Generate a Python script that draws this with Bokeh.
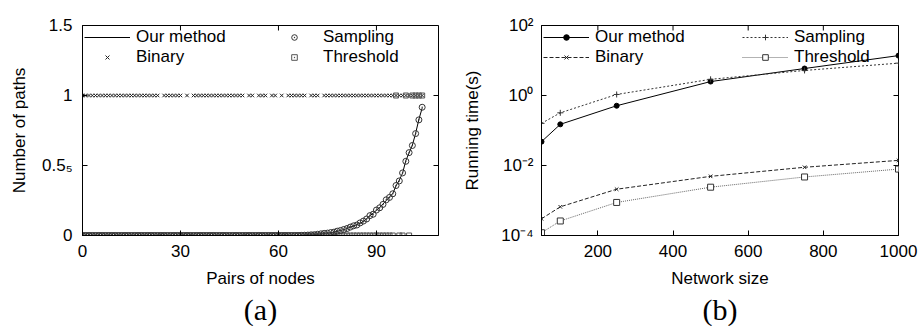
import math
from bokeh.plotting import figure
from bokeh.layouts import row
from bokeh.models import (FixedTicker, CustomJSTickFormatter, Legend, LegendItem, Title, Range1d)
from bokeh.embed import file_html
from bokeh.resources import INLINE

# ---------------- data: panel (a) ----------------
pairs = list(range(0, 105))
our_method = [
    0, 0, 0, 0, 0, 0, 0, 0, 0, 0,
    0, 0, 0, 0, 0, 0, 0, 0, 0, 0,
    0, 0, 0, 0, 0, 0, 0, 0, 0, 0,
    0, 0, 0, 0, 0, 0, 0, 0, 0, 0,
    0, 0, 0, 0, 0, 0, 0, 0, 0, 0,
    0, 0, 0, 0, 0, 0, 0, 0, 0, 0,
    0, 0, 0, 0, 0, 0, 0, 0.001, 0.002, 0.003,
    0.004, 0.006, 0.009, 0.012, 0.014, 0.017, 0.020, 0.024, 0.030, 0.036,
    0.042, 0.050, 0.060, 0.068, 0.078, 0.088, 0.100, 0.120, 0.140, 0.160,
    0.180, 0.200, 0.225, 0.250, 0.275, 0.300, 0.355, 0.395, 0.445, 0.535,
    0.590, 0.645, 0.730, 0.830, 0.910,
]
sampling = [
    0, 0, 0, 0, 0, 0, 0, 0, 0, 0,
    0, 0, 0, 0, 0, 0, 0, 0, 0, 0,
    0, 0, 0, 0, 0, 0, 0, 0, 0, 0,
    0, 0, 0, 0, 0, 0, 0, 0, 0, 0,
    0, 0, 0, 0, 0, 0, 0, 0, 0, 0,
    0, 0, 0, 0, 0, 0, 0, 0, 0, 0,
    0, 0, 0, 0, 0, 0, 0, 0.001, 0.002, 0.003,
    0.005, 0.006, 0.009, 0.012, 0.015, 0.017, 0.021, 0.024, 0.031, 0.036,
    0.043, 0.050, 0.060, 0.069, 0.075, 0.090, 0.103, 0.118, 0.142, 0.152,
    0.182, 0.198, 0.222, 0.255, 0.272, 0.298, 0.357, 0.390, 0.447, 0.530,
    0.592, 0.643, 0.728, 0.826, 0.916,
]
binary = [
    1, 1, 1, 1, 1, 1, 1, 1, 1, 1,
    1, 1, 1, 1, 1, 1, 1, 1, 1, 1,
    1, 1, 1, 1, 0, 1, 1, 1, 1, 1,
    1, 0, 1, 0, 1, 1, 1, 1, 1, 1,
    1, 1, 1, 1, 1, 1, 1, 1, 1, 1,
    0, 1, 1, 0, 1, 1, 1, 0, 1, 1,
    0, 1, 0, 1, 1, 1, 1, 1, 1, 0,
    1, 1, 1, 0, 1, 1, 1, 1, 1, 1,
    1, 1, 1, 1, 1, 1, 1, 1, 1, 1,
    1, 1, 1, 1, 1, 1, 1, 1, 1, 1,
    1, 1, 1, 1, 1,
]
threshold = [
    0, 0, 0, 0, 0, 0, 0, 0, 0, 0,
    0, 0, 0, 0, 0, 0, 0, 0, 0, 0,
    0, 0, 0, 0, 0, 0, 0, 0, 0, 0,
    0, 0, 0, 0, 0, 0, 0, 0, 0, 0,
    0, 0, 0, 0, 0, 0, 0, 0, 0, 0,
    0, 0, 0, 0, 0, 0, 0, 0, 0, 0,
    0, 0, 0, 0, 0, 0, 0, 0, 0, 0,
    0, 0, 0, 0, 0, 0, 0, 0, 0, 0,
    0, 0, 0, 0, 0, 0, 0, 0, 0, 0,
    0, 0, 0, 0, 0, 0, 1, 0, 0, 1,
    0, 1, 1, 1, 1,
]
pairs_ticks = [0, 30, 60, 90]
paths_ticks = [0, 0.5, 1, 1.5]

# ---------------- data: panel (b) ----------------
network_size = [50, 100, 250, 500, 750, 1000]
our_time = [0.048, 0.15, 0.51, 2.5, 5.9, 13.8]
sampling_time = [0.16, 0.32, 1.07, 2.9, 5.2, 8.4]
binary_time = [3.0e-4, 6.6e-4, 2.1e-3, 4.9e-3, 8.9e-3, 0.014]
threshold_time = [1.2e-4, 2.6e-4, 8.8e-4, 2.4e-3, 4.7e-3, 7.9e-3]
size_ticks = [200, 400, 600, 800, 1000]
time_ticks = [1e-4, 1e-2, 1, 1e2]

SANS = "Liberation Sans"
SERIF = "Liberation Serif"
FS = "17px"
H = 326
TOP = 25
FRAME_H = 210


def style_axis(ax, ticks):
    ax.ticker = FixedTicker(ticks=ticks)
    ax.major_tick_in = 5
    ax.major_tick_out = 0
    ax.minor_tick_line_color = None
    ax.axis_line_color = "black"
    ax.major_tick_line_color = "black"
    ax.major_label_text_font = SANS
    ax.major_label_text_font_size = FS
    ax.major_label_text_color = "black"
    ax.axis_label_text_font = SANS
    ax.axis_label_text_font_size = FS
    ax.axis_label_text_font_style = "normal"
    ax.axis_label_text_color = "black"


def base_fig(width, left, right, x_range, y_range, y_type="linear"):
    p = figure(width=width, height=H, output_backend="svg", toolbar_location=None,
               y_axis_type=y_type, x_range=x_range, y_range=y_range,
               min_border_left=left, min_border_right=right,
               min_border_top=TOP, min_border_bottom=H - TOP - FRAME_H)
    p.grid.visible = False
    p.outline_line_color = "black"
    p.background_fill_color = "white"
    p.border_fill_color = "white"
    return p


def mirror_ticks(p, xr, yr, xticks, yticks):
    # tick marks on the top and right frame edges (half of each dash is clipped by the frame)
    p.scatter(xticks, [yr.end] * len(xticks), marker="dash", angle=math.pi / 2,
              size=10, line_color="black", line_width=1)
    p.scatter([xr.end] * len(yticks), yticks, marker="dash",
              size=10, line_color="black", line_width=1)


# ---------------- panel (a) ----------------
xr_a = Range1d(0, 109)
yr_a = Range1d(0, 1.5)
pa = base_fig(460, 82, 22, xr_a, yr_a)
style_axis(pa.xaxis[0], pairs_ticks)
style_axis(pa.yaxis[0], paths_ticks)
pa.xaxis[0].axis_label = "Pairs of nodes"
pa.yaxis[0].axis_label = "Number of paths"
pa.xaxis[0].major_label_standoff = 9
pa.xaxis[0].axis_label_standoff = 9
pa.yaxis[0].major_label_standoff = 10
pa.yaxis[0].axis_label_standoff = 10
pa.yaxis[0].formatter = CustomJSTickFormatter(
    code="if (Math.abs(tick - 0.5) < 1e-9) { return '0.5\u2085'; } return String(tick);")
mirror_ticks(pa, xr_a, yr_a, pairs_ticks, paths_ticks)

r_om = pa.line(pairs, our_method, line_color="black", line_width=1)
r_bi = pa.scatter(pairs, binary, marker="x", size=5, line_color="#222222", line_width=1)
r_th = pa.scatter(pairs, threshold, marker="square_dot", size=5, line_color="#555555",
                  fill_color=None, line_width=1)
r_sa = pa.scatter(pairs, sampling, marker="circle_dot", size=6, line_color="#333333",
                  fill_color=None, line_width=1)

leg_a = Legend(items=[LegendItem(label="Our method", renderers=[r_om]),
                      LegendItem(label="Binary", renderers=[r_bi]),
                      LegendItem(label="Sampling", renderers=[r_sa]),
                      LegendItem(label="Threshold", renderers=[r_th])],
               location="top_left", nrows=2, orientation="vertical")

cap_a = Title(text="(a)", align="center", text_font=SERIF, text_font_size="30px",
              text_font_style="normal", text_color="black", standoff=0)
pa.add_layout(cap_a, "below")

# ---------------- panel (b) ----------------
xr_b = Range1d(50, 1000)
yr_b = Range1d(1e-4, 1e2)
pb = base_fig(460, 70, 22, xr_b, yr_b, y_type="log")
style_axis(pb.xaxis[0], size_ticks)
style_axis(pb.yaxis[0], time_ticks)
pb.xaxis[0].axis_label = "Network size"
pb.yaxis[0].axis_label = "Running time(s)"
pb.xaxis[0].major_label_standoff = 9
pb.xaxis[0].axis_label_standoff = 9
pb.yaxis[0].major_label_standoff = 8
pb.yaxis[0].axis_label_standoff = 16
sup_code = """
const e = Math.round(Math.log10(tick));
const sup = {'-': '\u207b', '0': '\u2070', '1': '\u00b9', '2': '\u00b2', '3': '\u00b3',
             '4': '\u2074', '5': '\u2075', '6': '\u2076', '7': '\u2077', '8': '\u2078', '9': '\u2079'};
return '10' + String(e).split('').map(c => sup[c]).join('');
"""
pb.yaxis[0].formatter = CustomJSTickFormatter(code=sup_code)
mirror_ticks(pb, xr_b, yr_b, size_ticks, time_ticks)

l1 = pb.line(network_size, our_time, line_color="black", line_width=1)
m1 = pb.scatter(network_size, our_time, marker="circle", size=5, color="black")
l2 = pb.line(network_size, sampling_time, line_color="#333333", line_width=1, line_dash="2 2")
m2 = pb.scatter(network_size, sampling_time, marker="cross", size=6, line_color="#333333")
l3 = pb.line(network_size, binary_time, line_color="#222222", line_width=1, line_dash="4 2")
m3 = pb.scatter(network_size, binary_time, marker="x", size=5, line_color="#222222")
l4 = pb.line(network_size, threshold_time, line_color="#666666", line_width=1, line_dash="1 1")
m4 = pb.scatter(network_size, threshold_time, marker="square", size=6, line_color="#333333",
                fill_color="white")

leg_b = Legend(items=[LegendItem(label="Our method", renderers=[l1, m1]),
                      LegendItem(label="Binary", renderers=[l3, m3]),
                      LegendItem(label="Sampling", renderers=[l2, m2]),
                      LegendItem(label="Threshold", renderers=[l4, m4])],
               location="top_left", nrows=2, orientation="vertical")

cap_b = Title(text="(b)", align="center", text_font=SERIF, text_font_size="30px",
              text_font_style="normal", text_color="black", standoff=0)
pb.add_layout(cap_b, "below")

for p, leg, lw in ((pa, leg_a, 135), (pb, leg_b, 147)):
    leg.label_text_font = SANS
    leg.label_text_font_size = FS
    leg.label_text_color = "black"
    leg.background_fill_alpha = 0
    leg.border_line_color = None
    leg.glyph_width = 46
    leg.glyph_height = 14
    leg.label_height = 14
    leg.label_standoff = 6
    leg.label_width = lw
    leg.spacing = 0
    leg.padding = 2
    leg.margin = 2
    p.add_layout(leg)

layout = row(pa, pb)
open("out.html", "w").write(file_html(layout, INLINE))
